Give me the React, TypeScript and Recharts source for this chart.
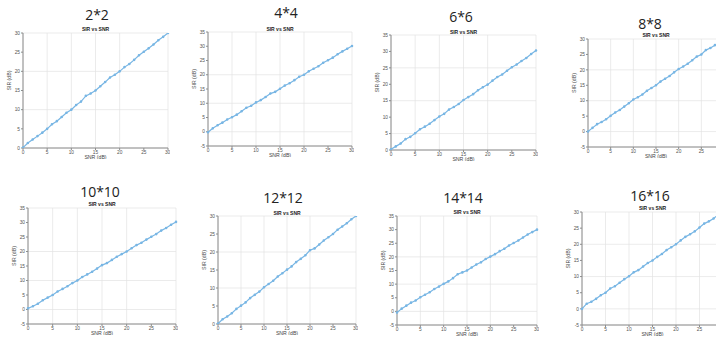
import { LineChart, Line, XAxis, YAxis, CartesianGrid } from 'recharts';

const snr = [0, 1, 2, 3, 4, 5, 6, 7, 8, 9, 10, 11, 12, 13, 14, 15, 16, 17, 18, 19, 20, 21, 22, 23, 24, 25, 26, 27, 28, 29, 30];
const xTicksFull = [0, 5, 10, 15, 20, 25, 30];
// the right-hand panels are cropped before the 30 dB tick
const xTicksCropped = [0, 5, 10, 15, 20, 25];

const sir2 = [0.1, 1.3, 2.2, 3.1, 4.0, 5.0, 6.2, 7.0, 8.1, 9.2, 10.0, 11.2, 12.1, 13.6, 14.2, 15.0, 16.1, 17.2, 18.4, 19.1, 20.0, 21.1, 21.9, 23.0, 24.2, 25.1, 26.0, 27.0, 28.1, 29.0, 30.0];
const sir4 = [-0.2, 1.2, 2.3, 3.2, 4.3, 5.1, 6.0, 7.2, 8.4, 9.1, 10.3, 11.1, 12.2, 13.4, 14.0, 15.1, 16.2, 17.0, 18.1, 19.3, 20.0, 21.2, 22.1, 23.0, 24.2, 25.1, 26.0, 27.2, 28.2, 29.1, 30.1];
const sir6 = [0.2, 1.1, 2.0, 3.3, 4.0, 5.1, 6.3, 7.1, 8.0, 9.1, 10.2, 11.0, 12.3, 13.1, 14.0, 15.2, 16.1, 17.0, 18.2, 19.1, 19.9, 21.1, 22.2, 23.0, 24.1, 25.2, 26.0, 27.1, 28.0, 29.2, 30.3];
const sir8 = [0.0, 1.2, 2.4, 3.1, 4.0, 5.1, 6.2, 7.0, 8.1, 9.2, 10.4, 11.1, 12.0, 13.2, 14.1, 15.0, 16.2, 17.1, 18.0, 19.2, 20.3, 21.1, 22.0, 23.1, 24.3, 25.0, 26.4, 27.1, 28.0, 29.1, 30.0];
const sir10 = [0.4, 1.1, 2.0, 3.2, 4.1, 5.0, 6.2, 7.1, 8.0, 9.1, 10.0, 11.2, 12.1, 13.0, 14.1, 15.3, 16.0, 17.1, 18.2, 19.1, 20.0, 21.1, 22.2, 23.0, 24.1, 25.1, 26.0, 27.2, 28.1, 29.2, 30.2];
const sir12 = [0.1, 1.3, 2.1, 3.0, 4.2, 5.1, 6.0, 7.2, 8.1, 9.0, 10.2, 11.1, 12.0, 13.2, 14.1, 15.1, 16.0, 17.2, 18.1, 19.1, 20.5, 21.0, 22.1, 23.2, 24.1, 25.0, 26.2, 27.1, 28.0, 29.1, 30.0];
const sir14 = [-0.4, 1.0, 2.1, 3.2, 4.0, 5.2, 6.1, 7.0, 8.2, 9.1, 10.1, 11.0, 12.2, 13.6, 14.3, 15.0, 16.1, 17.2, 18.0, 19.2, 20.1, 21.0, 22.1, 23.0, 24.2, 25.1, 26.0, 27.1, 28.2, 29.1, 30.0];
const sir16 = [0.0, 1.6, 2.2, 3.1, 4.2, 5.0, 6.3, 7.0, 8.1, 9.2, 10.1, 11.3, 12.0, 13.1, 14.2, 15.0, 16.1, 17.0, 18.2, 19.1, 20.0, 21.2, 22.3, 23.1, 24.0, 25.2, 26.4, 27.1, 28.0, 29.2, 30.1];

const yTicks0to30 = [0, 5, 10, 15, 20, 25, 30];
const yTicks0to35 = [0, 5, 10, 15, 20, 25, 30, 35];
const yTicksM5to30 = [-5, 0, 5, 10, 15, 20, 25, 30];
const yTicksM5to35 = [-5, 0, 5, 10, 15, 20, 25, 30, 35];

const titles = ['2*2', '4*4', '6*6', '8*8', '10*10', '12*12', '14*14', '16*16'];

// L/T/R/B = plot area in page pixels, tx/ty = big title centre, sy = "SIR vs SNR" y
const panels = [
  { title: titles[0], values: sir2, yTicks: yTicks0to30, xTicks: xTicksFull, L: 23, T: 33, R: 168, B: 148, tx: 97, ty: 15, sy: 29 },
  { title: titles[1], values: sir4, yTicks: yTicksM5to35, xTicks: xTicksFull, L: 208, T: 32, R: 352, B: 146, tx: 286, ty: 13, sy: 29 },
  { title: titles[2], values: sir6, yTicks: yTicks0to35, xTicks: xTicksFull, L: 391, T: 35, R: 536, B: 150, tx: 461, ty: 17, sy: 32 },
  { title: titles[3], values: sir8, yTicks: yTicksM5to30, xTicks: xTicksCropped, L: 588, T: 39, R: 724, B: 147, tx: 650, ty: 24, sy: 35 },
  { title: titles[4], values: sir10, yTicks: yTicksM5to35, xTicks: xTicksFull, L: 28, T: 208, R: 176, B: 324, tx: 100, ty: 192, sy: 204 },
  { title: titles[5], values: sir12, yTicks: yTicks0to30, xTicks: xTicksFull, L: 218, T: 216, R: 356, B: 324, tx: 283, ty: 198, sy: 213 },
  { title: titles[6], values: sir14, yTicks: yTicksM5to35, xTicks: xTicksFull, L: 397, T: 216, R: 537, B: 325, tx: 463, ty: 198, sy: 212 },
  { title: titles[7], values: sir16, yTicks: yTicksM5to30, xTicks: xTicksCropped, L: 582, T: 212, R: 723, B: 325, tx: 650, ty: 196, sy: 208 },
];

const font = 'Liberation Sans, Arial, sans-serif';
const tickStyle = { fontSize: 4.8, fill: '#555', fontFamily: font };
const boxColor = '#8c8c8c';
const lineColor = '#78b6e4';

function Panel({ p }: { p: (typeof panels)[number] }) {
  const yw = 22;
  const xh = 11;
  const mt = 2;
  const mr = 2;
  const w = p.R - p.L + yw + mr;
  const h = p.B - p.T + mt + xh;
  const rows = snr.map((x, i) => ({ snr: x, sir: p.values[i] }));
  const yDomain = [p.yTicks[0], p.yTicks[p.yTicks.length - 1]];

  return (
    <>
      <div
        style={{
          position: 'absolute', left: p.tx - 60, top: p.ty - 8, width: 120, textAlign: 'center',
          fontFamily: 'Open Sans, sans-serif', fontSize: 14, lineHeight: '16px', color: '#222',
        }}
      >
        {p.title}
      </div>
      <div
        style={{
          position: 'absolute', left: (p.L + p.R) / 2 - 40, top: p.sy - 3, width: 80, textAlign: 'center',
          fontFamily: font, fontSize: 5, fontWeight: 'bold', lineHeight: '6px', color: '#222',
        }}
      >
        SIR vs SNR
      </div>
      <div style={{ position: 'absolute', left: p.L - yw, top: p.T - mt }}>
        <LineChart width={w} height={h} data={rows} margin={{ top: mt, right: mr, bottom: 0, left: 0 }}>
          <CartesianGrid stroke="#e3e3e3" strokeWidth={0.7} xAxisId="b" yAxisId="l" />
          <XAxis
            xAxisId="b" dataKey="snr" type="number" domain={[0, 30]} ticks={p.xTicks} height={xh}
            tick={tickStyle} tickSize={2} tickMargin={1} tickLine={{ stroke: boxColor }} axisLine={{ stroke: boxColor }}
            label={{ value: 'SNR (dB)', position: 'insideBottom', offset: 0, fontSize: 5.2, fill: '#444', fontFamily: font }}
          />
          <XAxis xAxisId="t" orientation="top" type="number" domain={[0, 30]} height={0} tick={false} tickLine={false} axisLine={{ stroke: boxColor }} />
          <YAxis
            yAxisId="l" type="number" domain={yDomain} ticks={p.yTicks} width={yw} allowDataOverflow
            tick={tickStyle} tickSize={2} tickMargin={1} tickLine={{ stroke: boxColor }} axisLine={{ stroke: boxColor }}
            label={{ value: 'SIR (dB)', angle: -90, position: 'insideLeft', offset: 8, fontSize: 5.2, fill: '#444', fontFamily: font }}
          />
          <YAxis yAxisId="r" orientation="right" type="number" domain={yDomain} width={0} tick={false} tickLine={false} axisLine={{ stroke: boxColor }} />
          <Line
            xAxisId="b" yAxisId="l" type="linear" dataKey="sir" stroke={lineColor} strokeWidth={1.2}
            dot={{ r: 0.7, fill: lineColor, stroke: lineColor }} isAnimationActive={false}
          />
        </LineChart>
      </div>
    </>
  );
}

export default function App() {
  return (
    <div style={{ position: 'fixed', left: 0, top: 0, width: 716, height: 337, overflow: 'hidden', background: '#fff' }}>
      {panels.map((p) => (
        <Panel key={p.title} p={p} />
      ))}
    </div>
  );
}
